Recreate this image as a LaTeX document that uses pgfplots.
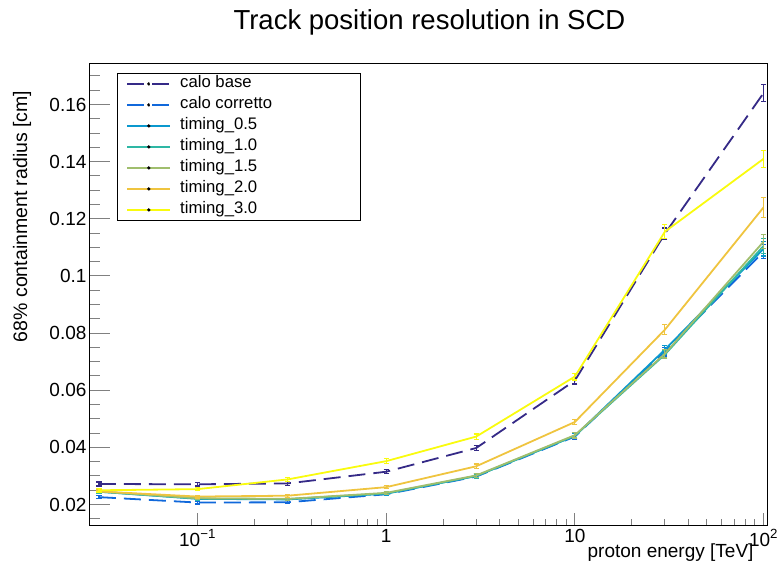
\documentclass[border=0pt]{standalone}
\usepackage{fontspec}
\setmainfont{Liberation Sans}
\usepackage{pgfplots}
\pgfplotsset{compat=1.18}
\usepackage{pgfplotstable}

\definecolor{cbase}{HTML}{352A87}
\definecolor{ccorr}{HTML}{1068DB}
\definecolor{tzf}{HTML}{0A98CE}
\definecolor{tone}{HTML}{2EB7A4}
\definecolor{tonef}{HTML}{A0BE6D}
\definecolor{ttwo}{HTML}{EFC43F}
\definecolor{tthree}{HTML}{F9FB0E}

\pgfplotstableread{
x y ey
0.03 0.0272 0.0007
0.1 0.0271 0.0006
0.3 0.0274 0.0006
1 0.0315 0.0007
3 0.0398 0.0009
10 0.0634 0.0012
30 0.1148 0.0020
100 0.1640 0.0030
}\calobase
\pgfplotstableread{
x y ey
0.03 0.0226 0.0005
0.1 0.0207 0.0005
0.3 0.0208 0.0005
1 0.0236 0.0005
3 0.0298 0.0007
10 0.0438 0.0010
30 0.0735 0.0015
100 0.1085 0.0025
}\calocorr
\pgfplotstableread{
x y ey
0.03 0.0245 0.0005
0.1 0.0220 0.0005
0.3 0.0218 0.0005
1 0.0238 0.0005
3 0.0300 0.0007
10 0.0440 0.0010
30 0.0742 0.0015
100 0.1095 0.0025
}\tzerofive
\pgfplotstableread{
x y ey
0.03 0.0245 0.0005
0.1 0.0221 0.0005
0.3 0.0219 0.0005
1 0.0239 0.0005
3 0.0300 0.0007
10 0.0441 0.0010
30 0.0725 0.0015
100 0.1105 0.0025
}\tonezero
\pgfplotstableread{
x y ey
0.03 0.0246 0.0005
0.1 0.0222 0.0005
0.3 0.0220 0.0005
1 0.0241 0.0005
3 0.0302 0.0007
10 0.0443 0.0010
30 0.0728 0.0015
100 0.1120 0.0025
}\tonefive
\pgfplotstableread{
x y ey
0.03 0.0246 0.0005
0.1 0.0228 0.0005
0.3 0.0231 0.0005
1 0.0261 0.0006
3 0.0334 0.0008
10 0.0489 0.0010
30 0.0812 0.0018
100 0.1240 0.0035
}\ttwozero
\pgfplotstableread{
x y ey
0.03 0.0250 0.0006
0.1 0.0254 0.0006
0.3 0.0288 0.0006
1 0.0352 0.0008
3 0.0438 0.0009
10 0.0648 0.0012
30 0.1155 0.0025
100 0.1410 0.0030
}\tthreezero

\newcommand{\lent}[1]{\makebox[171bp][l]{#1}}

\begin{document}
\begin{tikzpicture}[x=1bp,y=1bp]
\useasboundingbox (0,0) rectangle (777,571);
\begin{axis}[
  at={(90bp,45bp)}, anchor=south west,
  scale only axis, width=677.5bp, height=462bp,
  xmode=log, xmin=0.0269, xmax=105,
  ymin=0.0125, ymax=0.1742,
  axis line style={line width=1bp},
  xtick={0.1,1,10,100},
  xticklabels={10\textsuperscript{−1},1,10,10\textsuperscript{2}},
  ytick={0.02,0.04,0.06,0.08,0.1,0.12,0.14,0.16},
  yticklabels={0.02,0.04,0.06,0.08,0.1,0.12,0.14,0.16},
  minor ytick={0.015,0.025,0.03,0.035,0.045,0.05,0.055,0.065,0.07,0.075,0.085,0.09,0.095,0.105,0.11,0.115,0.125,0.13,0.135,0.145,0.15,0.155,0.165,0.17},
  xtick pos=bottom, ytick pos=left,
  tick align=inside,
  xtick style={line width=1bp, /pgfplots/major tick length=13bp, /pgfplots/minor tick length=6.5bp},
  ytick style={line width=1bp, /pgfplots/major tick length=20bp, /pgfplots/minor tick length=10bp},
  ticklabel style={font=\fontsize{19bp}{22bp}\selectfont},
  xlabel={proton energy [TeV]},
  xlabel style={font=\fontsize{19bp}{22bp}\selectfont, at={(axis description cs:0.9845,-0.0584)}, anchor=east},
  ylabel={68\% containment radius [cm]},
  ylabel style={font=\fontsize{19.5bp}{22bp}\selectfont, at={(axis description cs:-0.1004,0.95)}, anchor=east},
  title={Track position resolution in SCD},
  title style={font=\fontsize{27.5bp}{32bp}\selectfont, at={(axis description cs:0.501,1.078)}, anchor=center},
  error bars/y dir=both, error bars/y explicit,
  error bars/error bar style={line width=1.2bp, solid},
  error bars/error mark options={rotate=90, line width=1.2bp, mark size=2.6bp, solid},
  every axis plot/.append style={line width=1.8bp},
  legend style={at={(0.0399,0.9805)}, anchor=north west, draw=black, line width=0.8bp,
    font=\fontsize{16.7bp}{20bp}\selectfont, inner xsep=9bp, inner ysep=0bp,
    column sep=9bp, row sep=0pt,
    nodes={inner xsep=0pt, inner ysep=2.25bp, text height=12bp, text depth=4.5bp}},
  legend cell align=left,
  legend image code/.code={\draw[#1, line width=1.8bp] (0bp,0bp) -- (43bp,0bp); \fill[black] (21.5bp,0bp) circle (0.5bp);},
]
\addplot[cbase, dash pattern=on 17bp off 8bp] table[x=x,y=y,y error=ey]{\calobase};
\addlegendentry{\lent{calo base}}
\addplot[ccorr, dash pattern=on 17bp off 8bp] table[x=x,y=y,y error=ey]{\calocorr};
\addlegendentry{\lent{calo corretto}}
\addplot[tzf] table[x=x,y=y,y error=ey]{\tzerofive};
\addlegendentry{\lent{timing\_0.5}}
\addplot[tone] table[x=x,y=y,y error=ey]{\tonezero};
\addlegendentry{\lent{timing\_1.0}}
\addplot[tonef] table[x=x,y=y,y error=ey]{\tonefive};
\addlegendentry{\lent{timing\_1.5}}
\addplot[ttwo] table[x=x,y=y,y error=ey]{\ttwozero};
\addlegendentry{\lent{timing\_2.0}}
\addplot[tthree] table[x=x,y=y,y error=ey]{\tthreezero};
\addlegendentry{\lent{timing\_3.0}}
\end{axis}
\end{tikzpicture}
\end{document}
